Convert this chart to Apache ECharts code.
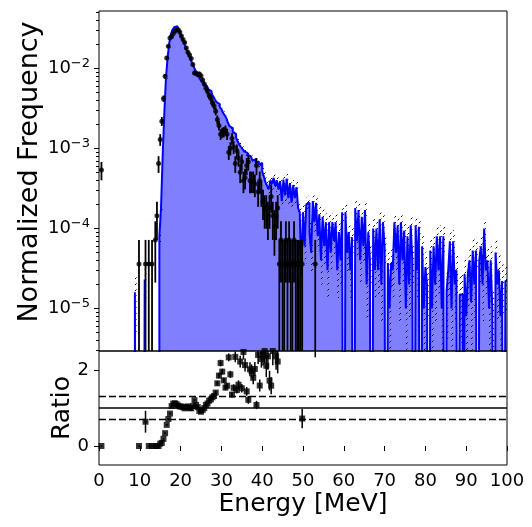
<!DOCTYPE html>
<html><head><meta charset="utf-8">
<script src="https://cdn.jsdelivr.net/npm/echarts@6/dist/echarts.min.js"></script>
<style>html,body{margin:0;padding:0;background:#fff}#c{width:532px;height:527px}</style>
</head><body><div id="c"></div>
<script>
// ---------------- data ----------------
const BIN_WIDTH = 0.4; // MeV, histogram bins from 0 to 100 MeV

// simulated normalized frequency per bin (250 bins)
const simValues = [
0,0,0,0,0,0,0,0,0,0,
0,0,0,0,0,0,0,0,0,0,
0,0,1.6e-5,0,0,0,0,0,2.3e-5,0,
0,0,0,0,0,0,0,8e-5,1.8e-4,8e-4,
2.7e-3,7.5e-3,0.0135,0.0205,0.0265,0.0305,0.0328,0.0337,0.0325,0.0298,
0.0265,0.0235,0.021,0.0186,0.0166,0.0148,0.0132,0.0118,0.0106,0.0095,
0.0086,0.0079,0.0073,0.0068,0.0064,0.0061,0.0058,0.0055,0.0052,0.0048,
0.0045,0.0041,0.0038,0.0036,0.0033,0.0031,0.0028,0.0026,0.0024,0.0021,
0.0019,0.0018,0.0016,0.00152,0.00138,0.00122,0.00112,0.00104,0.00098,0.00092,
0.00088,0.00083,0.0008,0.00078,0.00071,0.00073,0.00066,0.00069,0.00063,0.00066,
0.00052,0.00045,0.00038,0.00034,0.00031,0.0004,0.00036,0.00043,0.00034,0.0004,
0.00031,0.00039,0.00022,0.00041,0.00026,0.00042,0.00024,0.00037,0.00021,0.00035,
0.00024,0.00033,0.00018,0.00016,2.6e-5,0.00016,0.00006,0.0002,0.00021,0.00009,
0.00005,0.00022,0.00012,0.00021,0.00008,0.00015,0.00004,0.00014,0.00006,0.00012,
0.00003,0.00012,0.00005,0.00012,0.00007,0.00012,0.00003,0.00009,0.00004,0.00016,
0,0.00016,0.00005,0.00009,0.00003,0.000078,0,0.00018,0.00007,0.00017,
0.00004,0.00014,0.00006,0.00017,0.00002,0.00009,0.00004,0,0.0001,0.00003,
0.0001,0.00003,0.00013,0.00002,0.00012,0.000058,0,0.000037,0.00001,0.000037,
0.00003,0.00012,0.00005,0.00011,0.00002,0.00012,0.00004,0.000094,0.00001,0.00008,
0.00002,0.00011,0.00004,0,0.00011,0.00003,0.000105,0,0.00006,0.00001,
0.000033,0.00002,0,0.000053,0.00001,0.00006,0.00002,0.00008,0.00003,0.00008,
0.00001,0.00008,0,0.0000165,0.00003,0.000069,0.00001,0.000069,0.00002,0.00003,
0,0.000015,0.000015,0,0.000027,0.000008,0.000027,0.00004,0.000012,0.000053,
0.00002,0.000053,0,0.00004,0.00006,0.00002,0.0001,0.00003,0.00004,0.00001,
0.00004,0.00001,0,0.00005,0.00002,0.00003,0.000008,0.000022,0,0.000022
];

// relative uncertainty of the simulation per bin (hatched band)
const simRelErr = [
0,0,0,0,0,0,0,0,0,0,
0,0,0,0,0,0,0,0,0,0,
0,0,0.7,0,0,0,0,0,0.45,0,
0,0,0,0,0,0,0,0.15,0.1,0.05,
0.03,0.02,0.02,0.02,0.02,0.02,0.02,0.02,0.02,0.02,
0.02,0.02,0.02,0.02,0.02,0.02,0.02,0.02,0.02,0.02,
0.025,0.025,0.025,0.03,0.03,0.03,0.03,0.03,0.03,0.035,
0.035,0.035,0.035,0.04,0.04,0.04,0.04,0.045,0.045,0.045,
0.05,0.055,0.06,0.06,0.065,0.07,0.07,0.075,0.08,0.08,
0.08,0.085,0.09,0.09,0.095,0.09,0.1,0.1,0.1,0.1,
0.12,0.13,0.14,0.15,0.15,0.14,0.15,0.14,0.15,0.14,
0.16,0.14,0.19,0.14,0.18,0.14,0.19,0.15,0.2,0.15,
0.19,0.16,0.22,0.25,0.35,0.25,0.4,0.22,0.22,0.32,
0.45,0.21,0.3,0.22,0.35,0.25,0.5,0.26,0.4,0.28,
0.55,0.28,0.45,0.28,0.38,0.28,0.55,0.33,0.5,0.25,
0,0.25,0.45,0.33,0.55,0.36,0,0.24,0.38,0.25,
0.5,0.27,0.4,0.25,0.65,0.33,0.5,0,0.32,0.55,
0.32,0.55,0.28,0.65,0.3,0.42,0,0.52,0.8,0.52,
0.55,0.3,0.45,0.31,0.65,0.3,0.5,0.33,0.8,0.36,
0.65,0.31,0.5,0,0.31,0.55,0.31,0,0.4,0.8,
0.55,0.65,0,0.44,0.8,0.42,0.65,0.36,0.55,0.36,
0.8,0.36,0,0.75,0.55,0.38,0.8,0.38,0.65,0.55,
0,0.75,0.75,0,0.6,0.85,0.6,0.5,0.8,0.44,
0.65,0.44,0,0.5,0.4,0.65,0.3,0.55,0.5,0.8,
0.5,0.8,0,0.45,0.65,0.55,0.85,0.62,0,0.62
];

// measured data: bin centres (MeV) and counts
const dataCenters = [0.6, 9.8, 11.4, 12.2, 13.0, 13.8, 14.2, 14.6,
15.0, 15.4, 15.8, 16.2, 16.6, 17.0, 17.4,
17.8, 18.2, 18.6, 19.0, 19.4, 19.8, 20.2, 20.6, 21.0, 21.4, 21.8, 22.2, 22.6, 23.0,
23.4, 23.8, 24.2, 24.6, 25.0, 25.4, 25.8, 26.2, 26.6, 27.0, 27.4, 27.8,
28.2, 28.6, 29.0, 29.4, 29.8, 30.2, 30.6, 31.0, 31.4, 31.8, 32.2, 32.6, 33.0,
33.4, 33.8, 34.2, 34.6, 35.0, 35.4, 35.8, 36.2, 36.6, 37.0, 37.4, 37.8,
38.2, 38.6, 39.0, 39.4, 39.8, 40.2, 40.6, 41.0, 41.4, 41.8, 42.2, 42.6,
43.0, 43.4, 43.8, 44.2, 44.6, 45.0, 45.4, 45.8, 46.2, 46.6, 47.0, 47.4, 47.8, 48.2, 48.6,
49.0, 49.4, 49.8, 53.0];
const dataCounts = [15, 1, 1, 1, 1, 2, 4, 18,
36, 61, 117, 222, 375, 528, 667,
700, 760, 810, 850, 850, 796, 708, 640, 589, 502, 443, 411, 370, 312,
244, 244, 234, 238, 225, 199, 178, 157, 144, 128, 118, 104,
95, 81, 64, 54, 42, 44, 45, 47, 42, 25, 28, 37, 29,
18, 26, 21, 14, 19, 11, 12, 17, 19, 11, 11, 11,
10, 17, 8, 11, 8, 6, 5, 5, 4, 5, 7, 4,
3, 4, 5, 1, 2, 1, 1, 2, 1, 2, 1, 1, 2, 1, 1,
1, 1, 1, 1];
const COUNT_SCALE = 3.6e-5; // normalized frequency per count

const energyTicks = [0,10,20,30,40,50,60,70,80,90,100];
const freqMajorTicks = [1e-5, 1e-4, 1e-3, 1e-2];
const freqMinorTicks = [3e-6,4e-6,5e-6,6e-6,7e-6,8e-6,9e-6,
  2e-5,3e-5,4e-5,5e-5,6e-5,7e-5,8e-5,9e-5,
  2e-4,3e-4,4e-4,5e-4,6e-4,7e-4,8e-4,9e-4,
  2e-3,3e-3,4e-3,5e-3,6e-3,7e-3,8e-3,9e-3,
  2e-2,3e-2,4e-2,5e-2];
const ratioTicks = [0, 2];
const ratioRefLines = [0.7, 1.0, 1.3];

// axis ranges
const E_MIN = 0, E_MAX = 100;
const Y_MIN = 2.943e-6, Y_MAX = 0.05234;
const R_MIN = -0.5, R_MAX = 2.5;
const FONT = 'DejaVu Sans';

// ---------------- derived ----------------
const FLOOR = 1e-12;
const simStep = simValues.map((v, i) => [i * BIN_WIDTH, v > 0 ? v : FLOOR]);
simStep.push([E_MAX, simValues[simValues.length - 1] > 0 ? simValues[simValues.length - 1] : FLOOR]);

const hatchData = [];
simValues.forEach((v, i) => {
  const r = simRelErr[i];
  if (v > 0 && r > 0) {
    hatchData.push([i * BIN_WIDTH, (i + 1) * BIN_WIDTH, Math.max(v * (1 - r), Y_MIN), v * (1 + r)]);
  }
});

const dataPts = [], dataErr = [], ratioPts = [], ratioErr = [];
dataCenters.forEach((c, k) => {
  const n = dataCounts[k];
  const v = n * COUNT_SCALE, e = Math.sqrt(n) * COUNT_SCALE;
  dataPts.push([c, v]);
  dataErr.push([c, v, Math.max(v - e, Y_MIN), v + e, c - BIN_WIDTH / 2, c + BIN_WIDTH / 2]);
  const i = Math.round((c - BIN_WIDTH / 2) / BIN_WIDTH);
  const s = simValues[i] || 0;
  const r = s / v;
  const re = r * (simRelErr[i] || 0);
  ratioPts.push([c, r]);
  ratioErr.push([c, r, r - re, r + re, c - BIN_WIDTH / 2, c + BIN_WIDTH / 2]);
});

function makeHatch() {
  const c = document.createElement('canvas');
  c.width = 6; c.height = 6;
  const g = c.getContext('2d');
  g.strokeStyle = '#000'; g.lineWidth = 1;
  g.beginPath();
  g.moveTo(0, 6); g.lineTo(6, 0);
  g.moveTo(-1, 1); g.lineTo(1, -1);
  g.moveTo(5, 7); g.lineTo(7, 5);
  g.stroke();
  return c;
}
const hatchPattern = { image: makeHatch(), repeat: 'repeat' };

function makeErrRender(width) {
  return function (params, api) {
    const x = api.value(0), y = api.value(1);
    const top = api.coord([x, api.value(3)]), bot = api.coord([x, api.value(2)]);
    const l = api.coord([api.value(4), y]), r = api.coord([api.value(5), y]);
    const style = { stroke: '#000', lineWidth: width };
    return { type: 'group', children: [
      { type: 'line', shape: { x1: top[0], y1: top[1], x2: bot[0], y2: bot[1] }, style },
      { type: 'line', shape: { x1: l[0], y1: l[1], x2: r[0], y2: r[1] }, style }
    ]};
  };
}

function hatchRender(params, api) {
  const p0 = api.coord([api.value(0), api.value(3)]);
  const p1 = api.coord([api.value(1), api.value(2)]);
  return { type: 'rect', shape: { x: p0[0], y: p0[1], width: p1[0] - p0[0], height: p1[1] - p0[1] },
    style: { fill: hatchPattern, stroke: null } };
}

const chart = echarts.init(document.getElementById('c'), null, { renderer: 'canvas' });
const tickStyle = { color: '#000', width: 1 };
chart.setOption({
  animation: false,
  backgroundColor: '#fff',
  textStyle: { fontFamily: FONT, color: '#000' },
  grid: [
    { left: 99, top: 11, width: 408, height: 340, show: true, borderColor: '#000', borderWidth: 1, z: 10 },
    { left: 99, top: 351, width: 408, height: 114, show: true, borderColor: '#000', borderWidth: 1, z: 10 }
  ],
  xAxis: [
    { gridIndex: 0, type: 'value', min: E_MIN, max: E_MAX, interval: 10,
      axisLine: { show: false }, axisTick: { show: false }, axisLabel: { show: false }, splitLine: { show: false } },
    { gridIndex: 1, type: 'value', min: E_MIN, max: E_MAX, interval: 10,
      axisLine: { show: false },
      axisTick: { show: true, length: 5, lineStyle: tickStyle, customValues: energyTicks },
      axisLabel: { fontSize: 18, color: '#000', fontFamily: FONT, margin: 7, customValues: energyTicks },
      splitLine: { show: false },
      name: 'Energy [MeV]', nameLocation: 'middle', nameGap: 27, nameMoveOverlap: false,
      nameTextStyle: { fontSize: 25, color: '#000', fontFamily: FONT } }
  ],
  yAxis: [
    { gridIndex: 0, type: 'log', logBase: 10, min: Y_MIN, max: Y_MAX, position: 'left',
      axisLine: { show: false }, splitLine: { show: false },
      axisTick: { show: true, length: 5, lineStyle: tickStyle, customValues: freqMajorTicks },
      axisLabel: { customValues: freqMajorTicks, margin: 9,
        formatter: v => '{b|10}{s|\u2212' + Math.round(-Math.log10(v)) + '}',
        rich: { b: { fontSize: 18, lineHeight: 22, fontFamily: FONT, color: '#000' },
                s: { fontSize: 13, lineHeight: 13, verticalAlign: 'top', fontFamily: FONT, color: '#000' } } },
      name: 'Normalized Frequency', nameLocation: 'middle', nameGap: 56, nameMoveOverlap: false,
      nameTextStyle: { fontSize: 27, color: '#000', fontFamily: FONT, padding: [0, 0, 0, 18] } },
    { gridIndex: 0, type: 'log', logBase: 10, min: Y_MIN, max: Y_MAX, position: 'left',
      axisLine: { show: false }, splitLine: { show: false }, axisLabel: { show: false },
      axisTick: { show: true, length: 3, lineStyle: tickStyle, customValues: freqMinorTicks } },
    { gridIndex: 1, type: 'value', min: R_MIN, max: R_MAX, position: 'left',
      axisLine: { show: false }, splitLine: { show: false },
      axisTick: { show: true, length: 5, lineStyle: tickStyle, customValues: ratioTicks },
      axisLabel: { fontSize: 18, color: '#000', fontFamily: FONT, margin: 10, customValues: ratioTicks },
      name: 'Ratio', nameLocation: 'middle', nameGap: 24, nameMoveOverlap: false,
      nameTextStyle: { fontSize: 25, color: '#000', fontFamily: FONT } }
  ],
  series: [
    { type: 'line', xAxisIndex: 0, yAxisIndex: 0, step: 'end', data: simStep, symbol: 'none',
      lineStyle: { width: 0, opacity: 0 }, areaStyle: { color: '#8080ff', opacity: 1, origin: 'start' },
      clip: true, silent: true, z: 1 },
    { type: 'custom', xAxisIndex: 0, yAxisIndex: 0, data: hatchData, renderItem: hatchRender,
      encode: { x: [0, 1], y: [2, 3] }, clip: true, silent: true, z: 2 },
    { type: 'line', xAxisIndex: 0, yAxisIndex: 0, step: 'end', data: simStep, symbol: 'none',
      lineStyle: { width: 2, color: '#0000ff' }, clip: true, silent: true, z: 3 },
    { type: 'custom', xAxisIndex: 0, yAxisIndex: 0, data: dataErr, renderItem: makeErrRender(1.8),
      encode: { x: [0, 4, 5], y: [1, 2, 3] }, clip: true, silent: true, z: 4 },
    { type: 'scatter', xAxisIndex: 0, yAxisIndex: 0, data: dataPts, symbol: 'circle', symbolSize: 5,
      itemStyle: { color: '#000' }, clip: true, silent: true, z: 5 },
    ...ratioRefLines.map(y => ({
      type: 'line', xAxisIndex: 1, yAxisIndex: 2, data: [[E_MIN, y], [E_MAX, y]], symbol: 'none',
      lineStyle: { color: '#000', width: 1.5, type: y === 1 ? 'solid' : [7, 3] }, silent: true, z: 3 })),
    { type: 'custom', xAxisIndex: 1, yAxisIndex: 2, data: ratioErr, renderItem: makeErrRender(1.5),
      encode: { x: [0, 4, 5], y: [1, 2, 3] }, clip: true, silent: true, z: 4 },
    { type: 'scatter', xAxisIndex: 1, yAxisIndex: 2, data: ratioPts, symbol: 'rect', symbolSize: 6,
      itemStyle: { color: '#000' }, clip: true, silent: true, z: 5 }
  ]
});
</script>
</body></html>
